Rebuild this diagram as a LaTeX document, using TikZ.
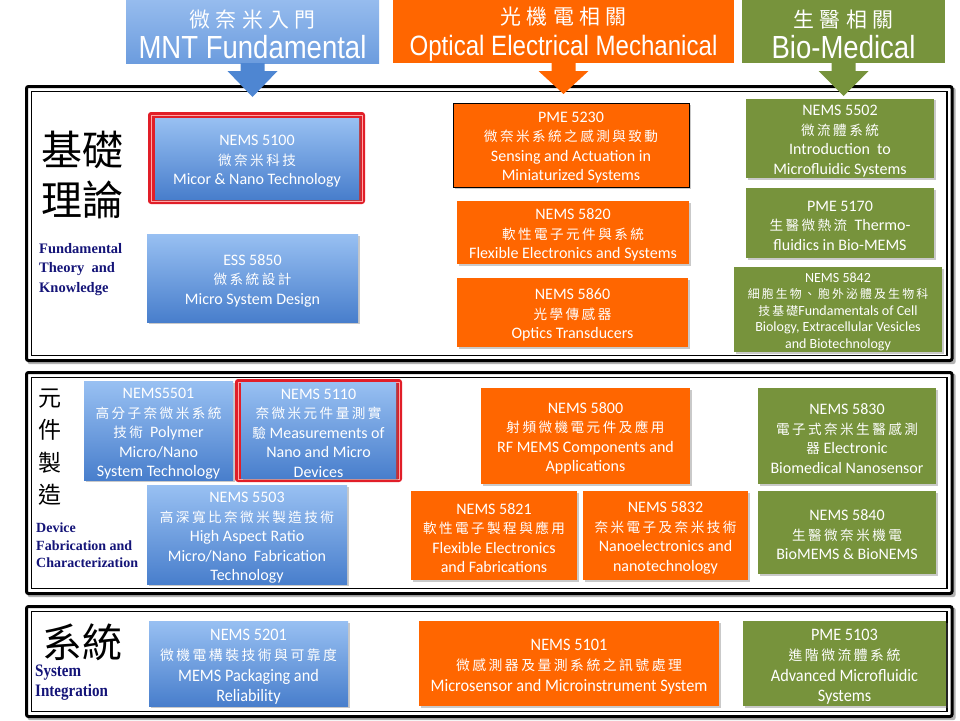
\documentclass[tikz,border=0pt]{standalone}
\usepackage{fontspec}
\usetikzlibrary{shadows}
\setmainfont{Carlito}
\newfontfamily\cjkfont[LetterSpace=18,Scale=0.85]{Noto Sans CJK TC}
\newfontfamily\cjkS[LetterSpace=18,Scale=0.79]{Noto Sans CJK TC}
\newfontfamily\cjkH[LetterSpace=25,Scale=0.95]{Noto Sans CJK TC}
\newfontfamily\cjkbig{Noto Sans CJK TC}
\newfontfamily\hdfont[FakeStretch=0.86]{Liberation Sans}
\newfontfamily\tnr{Liberation Serif}
\newfontfamily\tnrn[FakeStretch=0.86]{Liberation Serif}
\newfontfamily\narrowfont[FakeStretch=0.93]{Carlito}
\newcommand\zh[1]{{\cjkfont #1}}
\newcommand\zhs[1]{{\cjkS #1}}
\newcommand\hzh[1]{{\cjkH\fontsize{22}{30}\selectfont #1}}
\definecolor{bTop}{RGB}{152,192,242}
\definecolor{bBot}{RGB}{72,126,204}
\definecolor{hbTop}{RGB}{150,188,238}
\definecolor{hbBot}{RGB}{108,156,222}
\definecolor{arrB}{RGB}{78,134,210}
\definecolor{org}{RGB}{255,102,0}
\definecolor{grn}{RGB}{119,147,60}
\definecolor{navyc}{RGB}{20,20,120}
\definecolor{redf}{RGB}{225,30,40}
\tikzset{
  cbox/.style={inner sep=1pt, outer sep=0pt, align=center, text=white,
    font={\fontsize{16}{19.5}\selectfont},
    drop shadow={shadow xshift=1.5pt, shadow yshift=-1.5pt, opacity=0.35, fill=black!60}},
  bluebox/.style={cbox, top color=bTop, bottom color=bBot},
  orgbox/.style={cbox, fill=org},
  grnbox/.style={cbox, fill=grn},
  redframe/.style={fill=redf, rounded corners=3pt, inner sep=0pt, outer sep=0pt},
  hdrbox/.style={inner sep=0pt, outer sep=0pt},
  hdrtext/.style={inner sep=0pt, align=center, text=white,
    font={\hdfont\fontsize{32}{31}\selectfont}},
  sidelbl/.style={inner sep=0pt, align=left, text=navyc},
  bigzh/.style={inner sep=0pt, align=center, text=black},
  sysfont/.style={font={\narrowfont\fontsize{17.5}{20.5}\selectfont}}
}
\newcommand\course[7]{%
  \node[#1, minimum width={#5-#3}, minimum height={#6-#4}] (#2) at ({(#3+#5)/2},{(#4+#6)/2}) {\rule{0pt}{1em}#7};}
\newcommand\plainbox[6]{%
  \node[#1, minimum width={#5-#3}, minimum height={#6-#4}] (#2) at ({(#3+#5)/2},{(#4+#6)/2}) {};}
\newcommand\secframe[5]{%
  \fill[black!30, rounded corners=2pt] (#2+1,#3+1) rectangle (#4+3.5,#5+3.5);
  \node[fill=white, draw=black, line width=3pt, rounded corners=2pt, minimum width={#4-#2}, minimum height={#5-#3}, inner sep=0pt, outer sep=0pt] (#1) at ({(#2+#4)/2},{(#3+#5)/2}) {};
  \draw[black, line width=1.8pt] ([shift={(5pt,-5pt)}]#1.north west) rectangle ([shift={(-5pt,5pt)}]#1.south east);}
\newcommand\harrow[3]{% header node, colour, tip depth
  \fill[#2] ([xshift=-12pt]#1.south) -- ++(0,8) -- ++(-13,0) -- ([yshift=-#3pt]#1.south) -- ++(25,{8-#3}) -- ++(-13,0) -- ([xshift=12pt]#1.south) -- cycle;}
\begin{document}
\begin{tikzpicture}[x=1pt,y=-1pt]
\useasboundingbox (0,0) rectangle (960,720);
\fill[white] (0,0) rectangle (960,720);

% section frames
\secframe{sec1}{26.5}{86.5}{952}{360.5}
\secframe{sec2}{26.5}{372.5}{952}{593.5}
\secframe{sec3}{26.5}{606.5}{952}{716.5}

% headers
\plainbox{hdrbox, top color=hbTop, bottom color=hbBot}{hmnt}{126}{0}{379}{63}
\plainbox{hdrbox, fill=org}{hoem}{393}{0}{734}{63}
\plainbox{hdrbox, fill=grn}{hbio}{742}{0}{945}{63}
\node[hdrtext] (tmnt) at ([yshift=-3pt]hmnt.center) {\hzh{微奈米入門}\\MNT Fundamental};
\node[hdrtext, font={\hdfont\fontsize{28}{31}\selectfont}] (toem) at ([yshift=-3pt]hoem.center) {\hzh{光機電相關}\\Optical Electrical Mechanical};
\node[hdrtext] (tbio) at ([yshift=-3pt]hbio.center) {\hzh{生醫相關}\\Bio-Medical};
\harrow{hmnt}{arrB}{34}
\harrow{hoem}{org}{31}
\harrow{hbio}{grn}{33}

% side labels
\node[bigzh, font={\cjkbig\fontsize{41}{50}\selectfont}] (lblA) at (82,175) {基礎\\理論};
\node[sidelbl, anchor=north west, font={\tnr\bfseries\fontsize{14.5}{19.6}\selectfont}] (lblAe) at (39,243) {Fundamental\\Theory~ and\\Knowledge};
\node[bigzh, font={\cjkbig\fontsize{23}{32.5}\selectfont}] (lblB) at (50,447) {元\\件\\製\\造};
\node[sidelbl, anchor=north west, font={\tnr\bfseries\fontsize{14}{17.5}\selectfont}] (lblBe) at (36,523) {Device\\Fabrication and\\Characterization};
\node[bigzh, font={\cjkbig\fontsize{40}{50}\selectfont}] (lblC) at (82,642) {系統};
\node[sidelbl, anchor=north west, font={\tnrn\bfseries\fontsize{17.5}{19.5}\selectfont}] (lblCe) at (35,665) {System\\Integration};

% section 1
\plainbox{redframe}{r5100}{148}{112}{365}{204}
\draw[red!35!white, line width=0.8pt] ([shift={(3pt,-3pt)}]r5100.north west) rectangle ([shift={(-3pt,3pt)}]r5100.south east);
\course{bluebox}{n5100}{155}{118}{359}{199}{NEMS 5100\\\zh{微奈米科技}\\Micor \& Nano Technology}
\course{bluebox}{e5850}{147}{234}{358}{322}{ESS 5850\\\zh{微系統設計}\\Micro System Design}
\course{orgbox, draw=black, line width=0.8pt}{p5230}{453}{103}{689}{187}{PME 5230\\\zh{微奈米系統之感測與致動}\\Sensing and Actuation in\\Miniaturized Systems}
\course{orgbox}{n5820}{457}{201}{689}{264}{NEMS 5820\\\zh{軟性電子元件與系統}\\Flexible Electronics and Systems}
\course{orgbox}{n5860}{457}{278}{688}{347}{NEMS 5860\\\zh{光學傳感器}\\Optics Transducers}
\course{grnbox}{n5502}{746}{103}{934}{174}{NEMS 5502\\\zh{微流體系統}\\Introduction~ to\\Microfluidic Systems}
\course{grnbox}{p5170}{746}{188}{934}{258}{PME 5170\\\zh{生醫微熱流}~ Thermo-\\fluidics in Bio-MEMS}
\course{grnbox, font={\fontsize{14}{16.5}\selectfont}}{n5842}{734}{267}{942}{352}{NEMS 5842\\\zh{細胞生物、胞外泌體及生物科}\\\zh{技基礎}Fundamentals of Cell\\Biology, Extracellular Vesicles\\and Biotechnology}

% section 2
\course{bluebox}{n5501}{84}{383}{233}{479}{NEMS5501\\\zh{高分子奈微米系統}\\\zh{技術}~ Polymer\\Micro/Nano\\System Technology}
\plainbox{redframe}{r5110}{235}{379}{402}{482}
\draw[red!35!white, line width=0.8pt] ([shift={(3pt,-3pt)}]r5110.north west) rectangle ([shift={(-3pt,3pt)}]r5110.south east);
\course{bluebox}{n5110}{241}{385}{396}{476}{NEMS 5110\\\zh{奈微米元件量測實}\\\zh{驗} Measurements of\\Nano and Micro\\Devices}
\course{bluebox}{n5503}{147}{489}{347}{581}{NEMS 5503\\\zh{高深寬比奈微米製造技術}\\High Aspect Ratio\\Micro/Nano~ Fabrication\\Technology}
\course{orgbox}{n5800}{481}{388}{690}{484}{NEMS 5800\\\zh{射頻微機電元件及應用}\\RF MEMS Components and\\Applications}
\course{orgbox}{n5821}{411}{491}{577}{580}{NEMS 5821\\\zh{軟性電子製程與應用}\\Flexible Electronics\\and Fabrications}
\course{orgbox}{n5832}{583}{491}{748}{580}{NEMS 5832\\\zh{奈米電子及奈米技術}\\Nanoelectronics and\\nanotechnology}
\course{grnbox}{n5830}{758}{388}{936}{484}{NEMS 5830\\\zh{電子式奈米生醫感測}\\\zh{器} Electronic\\Biomedical Nanosensor}
\course{grnbox}{n5840}{758}{491}{936}{574}{NEMS 5840\\\zh{生醫微奈米機電}\\BioMEMS \& BioNEMS}

% section 3
\course{bluebox, sysfont}{n5201}{149}{621}{348}{706}{NEMS 5201\\\zhs{微機電構裝技術與可靠度}\\MEMS Packaging and\\Reliability}
\course{orgbox, sysfont}{n5101}{419}{621}{719}{706}{NEMS 5101\\\zhs{微感測器及量測系統之訊號處理}\\Microsensor and Microinstrument System}
\course{grnbox, sysfont}{p5103}{743}{621}{946}{706}{PME 5103\\\zhs{進階微流體系統}\\Advanced Microfluidic\\Systems}
\end{tikzpicture}
\end{document}
